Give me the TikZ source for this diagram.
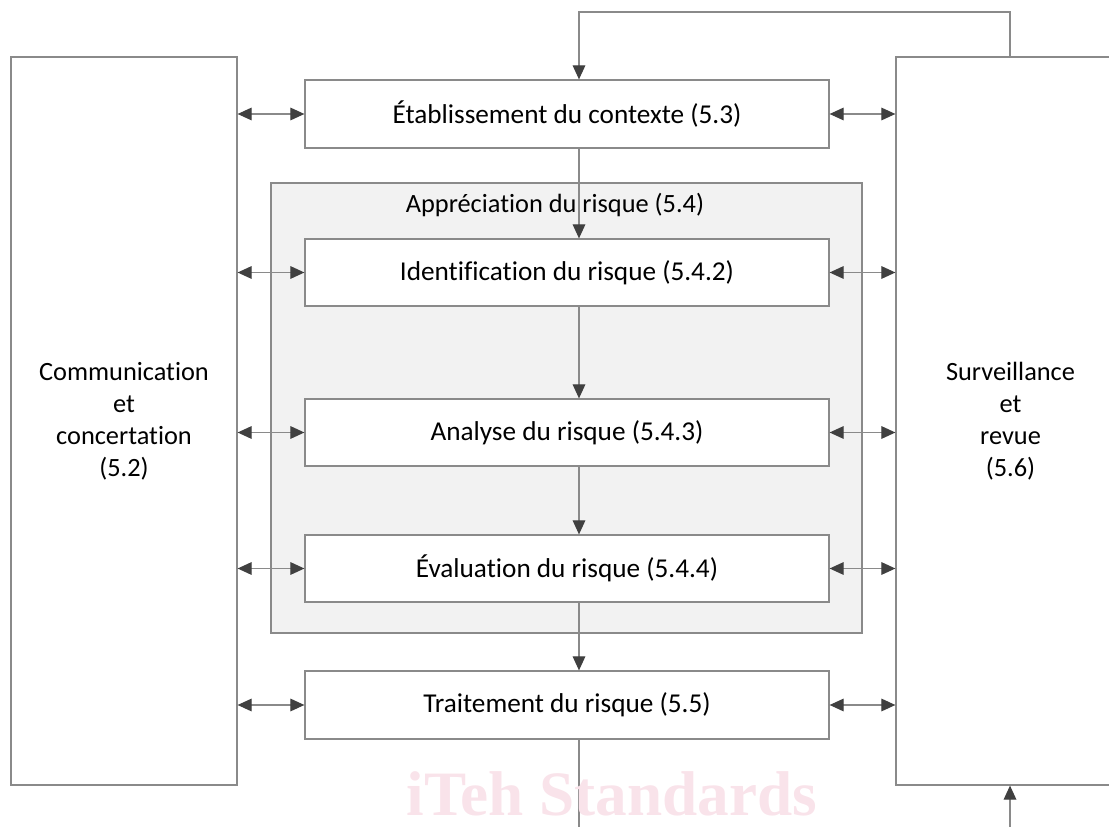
\documentclass[tikz,border=0pt]{standalone}
\usepackage{fontspec}
\setmainfont{Carlito}[RawFeature={-liga;-clig;-calt;-dlig}]
\newfontfamily\wmfont{Liberation Serif}
\usepackage{xcolor}
\usetikzlibrary{arrows.meta}
\definecolor{linegray}{HTML}{8A8A8A}
\definecolor{tipgray}{HTML}{404040}
\definecolor{panelgray}{HTML}{F2F2F2}
\definecolor{wmpink}{HTML}{F9E3EA}

\begin{document}
\begin{tikzpicture}[x=0.02cm, y=-0.02cm, >={Triangle[length=8pt,width=7.2pt,color=tipgray]},
    font=\fontsize{15}{18.3}\selectfont, line width=0.7pt,
    stepbox/.style={draw=linegray, fill=white, minimum width=524*0.02cm, minimum height=67*0.02cm, inner sep=0pt,
        font=\fontsize{15.5}{19}\selectfont},
    sidebox/.style={draw=linegray, fill=white, minimum height=728*0.02cm, inner sep=0pt, align=center},
    link/.style={draw=linegray, ->},
    dlink/.style={draw=linegray, <->}]
    \useasboundingbox (0,0) rectangle (1109,827);

    % side columns
    \node[sidebox, minimum width=226*0.02cm] (comm) at (124,421) {Communication\\et\\concertation\\(5.2)};
    \node[sidebox, minimum width=229*0.02cm] (surv) at (1010.5,421) {Surveillance\\et\\revue\\(5.6)};

    % risk assessment panel
    \node[draw=linegray, fill=panelgray, minimum width=591*0.02cm, minimum height=450*0.02cm, inner sep=0pt] (appr) at (566.5,408) {};
    \node (apprt) at (555,205) {Appréciation du risque (5.4)};

    % process steps
    \node[stepbox, minimum height=68*0.02cm] (etab) at (567,114) {Établissement du contexte (5.3)};
    \node[stepbox] (ident) at (567,272.5) {Identification du risque (5.4.2)};
    \node[stepbox] (anal) at (567,432.5) {Analyse du risque (5.4.3)};
    \node[stepbox] (eval) at (567,568.5) {Évaluation du risque (5.4.4)};
    \node[stepbox, minimum height=68*0.02cm] (trait) at (567,705) {Traitement du risque (5.5)};

    \coordinate (spine) at (579,12);
    \coordinate (back) at (1010,12);
    \coordinate (spineend) at (579,827);
    \coordinate (backend) at (1010,827);

    % main flow
    \draw[link] (surv.north -| back) -- (back) -- (spine) -- (etab.north -| spine);
    \draw[link] (etab.south -| spine) -- (ident.north -| spine);
    \draw[link] (ident.south -| spine) -- (anal.north -| spine);
    \draw[link] (anal.south -| spine) -- (eval.north -| spine);
    \draw[link] (eval.south -| spine) -- (trait.north -| spine);
    \draw[draw=linegray] (trait.south -| spine) -- (spineend);
    \draw[link] (backend) -- (surv.south -| back);

    % exchanges with the side columns
    \foreach \s in {etab, ident, anal, eval, trait} {
        \draw[dlink] (\s.west -| comm.east) -- (\s.west);
        \draw[dlink] (\s.east) -- (\s.east -| surv.west);
    }

    \node[text=wmpink, font=\wmfont\bfseries\fontsize{36}{36}\selectfont, anchor=base] (wm) at (612,815) {iTeh Standards};
\end{tikzpicture}
\end{document}
